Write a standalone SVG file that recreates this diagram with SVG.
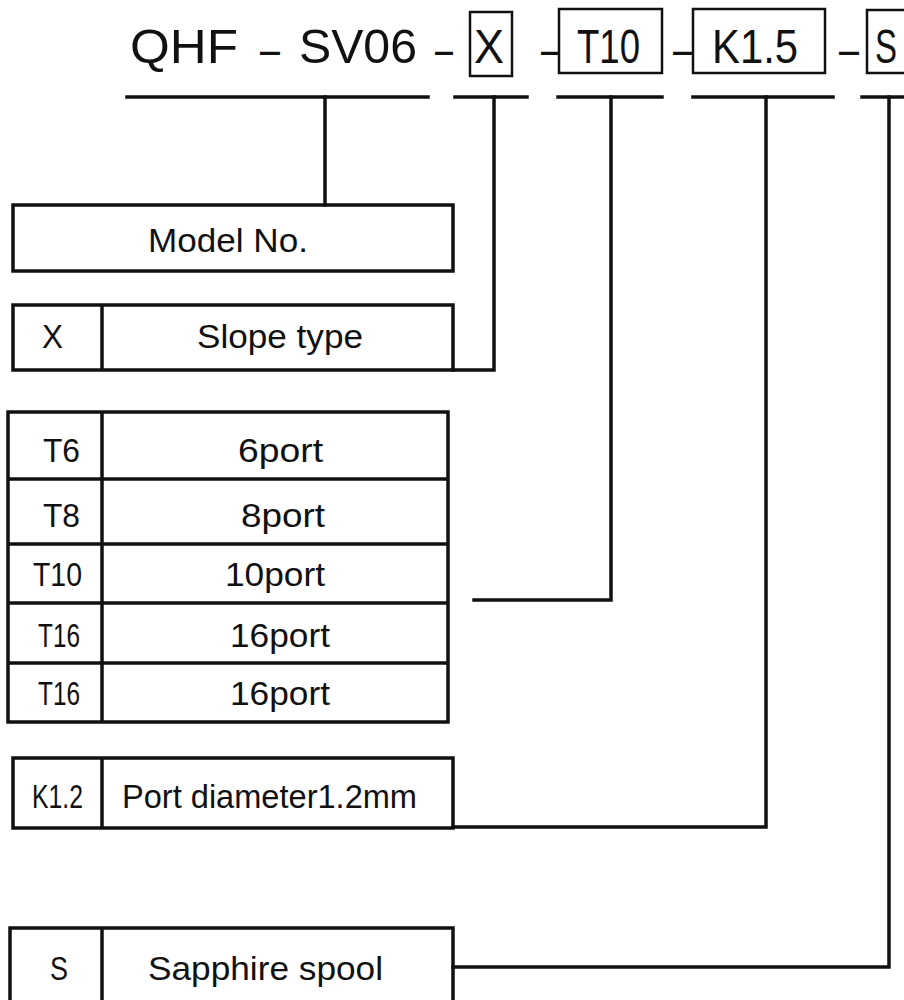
<svg xmlns="http://www.w3.org/2000/svg" width="904" height="1000" viewBox="0 0 904 1000">
<style>
.t{font-family:"Liberation Sans",Arial,sans-serif;fill:#111;}
.h{font-size:48px;}
.b{font-size:33px;}
.box{fill:none;stroke:#111;stroke-width:3.5;}
.hb{fill:none;stroke:#111;stroke-width:2.5;}
.ln{fill:none;stroke:#111;stroke-width:3.5;stroke-linecap:square;}
</style>
<rect width="904" height="1000" fill="#fff"/>
<g id="header">
<text class="t h" x="130" y="63" textLength="108" lengthAdjust="spacingAndGlyphs">QHF</text>
<text class="t h" x="260" y="66" textLength="20" lengthAdjust="spacingAndGlyphs">–</text>
<text class="t h" x="299" y="63" textLength="118" lengthAdjust="spacingAndGlyphs">SV06</text>
<text class="t h" x="435" y="66" textLength="18" lengthAdjust="spacingAndGlyphs">–</text>
<rect class="hb" x="470" y="12" width="42" height="64"/>
<text class="t h" x="474" y="63" textLength="30" lengthAdjust="spacingAndGlyphs">X</text>
<text class="t h" x="541" y="66" textLength="18" lengthAdjust="spacingAndGlyphs">–</text>
<rect class="hb" x="559" y="9" width="103" height="64"/>
<text class="t h" x="577" y="63" textLength="63" lengthAdjust="spacingAndGlyphs">T10</text>
<text class="t h" x="673" y="66" textLength="20" lengthAdjust="spacingAndGlyphs">–</text>
<rect class="hb" x="693" y="9" width="132" height="64"/>
<text class="t h" x="712" y="63" textLength="86" lengthAdjust="spacingAndGlyphs">K1.5</text>
<text class="t h" x="839" y="66" textLength="20" lengthAdjust="spacingAndGlyphs">–</text>
<rect class="hb" x="867" y="10" width="50" height="63"/>
<text class="t h" x="875" y="63" textLength="22" lengthAdjust="spacingAndGlyphs">S</text>
</g>
<g id="model">
<rect class="box" x="13" y="205" width="440" height="66"/>
<text class="t b" x="148" y="252" textLength="160" lengthAdjust="spacingAndGlyphs">Model No.</text>
</g>
<g id="slope">
<rect class="box" x="13" y="305" width="440" height="65"/>
<line class="box" x1="102" y1="305" x2="102" y2="370"/>
<text class="t b" x="42" y="348" textLength="21" lengthAdjust="spacingAndGlyphs">X</text>
<text class="t b" x="197" y="348" textLength="166" lengthAdjust="spacingAndGlyphs">Slope type</text>
</g>
<g id="ports">
<rect class="box" x="8" y="412" width="440" height="310"/>
<line class="box" x1="102" y1="412" x2="102" y2="722"/>
<line class="box" x1="8" y1="479" x2="448" y2="479"/>
<line class="box" x1="8" y1="544" x2="448" y2="544"/>
<line class="box" x1="8" y1="603" x2="448" y2="603"/>
<line class="box" x1="8" y1="663" x2="448" y2="663"/>
<text class="t b" x="43" y="462" textLength="37" lengthAdjust="spacingAndGlyphs">T6</text>
<text class="t b" x="238" y="462" textLength="85" lengthAdjust="spacingAndGlyphs">6port</text>
<text class="t b" x="43" y="527" textLength="37" lengthAdjust="spacingAndGlyphs">T8</text>
<text class="t b" x="241" y="527" textLength="84" lengthAdjust="spacingAndGlyphs">8port</text>
<text class="t b" x="33" y="586" textLength="49" lengthAdjust="spacingAndGlyphs">T10</text>
<text class="t b" x="225" y="586" textLength="100" lengthAdjust="spacingAndGlyphs">10port</text>
<text class="t b" x="38" y="647" textLength="42" lengthAdjust="spacingAndGlyphs">T16</text>
<text class="t b" x="230" y="647" textLength="100" lengthAdjust="spacingAndGlyphs">16port</text>
<text class="t b" x="38" y="705" textLength="42" lengthAdjust="spacingAndGlyphs">T16</text>
<text class="t b" x="230" y="705" textLength="100" lengthAdjust="spacingAndGlyphs">16port</text>
</g>
<g id="diameter">
<rect class="box" x="13" y="758" width="440" height="70"/>
<line class="box" x1="102" y1="758" x2="102" y2="828"/>
<text class="t b" x="32" y="808" textLength="51" lengthAdjust="spacingAndGlyphs">K1.2</text>
<text class="t b" x="122" y="808" textLength="295" lengthAdjust="spacingAndGlyphs">Port diameter1.2mm</text>
</g>
<g id="spool">
<rect class="box" x="10" y="928" width="443" height="100"/>
<line class="box" x1="102" y1="928" x2="102" y2="1000"/>
<text class="t b" x="50" y="980" textLength="18" lengthAdjust="spacingAndGlyphs">S</text>
<text class="t b" x="148" y="980" textLength="235" lengthAdjust="spacingAndGlyphs">Sapphire spool</text>
</g>
<g id="connectors">
<line class="ln" x1="127" y1="97" x2="428" y2="97"/>
<line class="ln" x1="455" y1="97" x2="527" y2="97"/>
<line class="ln" x1="558" y1="97" x2="662" y2="97"/>
<line class="ln" x1="693" y1="97" x2="833" y2="97"/>
<line class="ln" x1="862" y1="97" x2="904" y2="97"/>
<polyline class="ln" points="325,97 325,205"/>
<polyline class="ln" points="494,97 494,370 453,370"/>
<polyline class="ln" points="611,97 611,600 474,600"/>
<polyline class="ln" points="766,97 766,827 453,827"/>
<polyline class="ln" points="889,97 889,967 453,967"/>
</g>
</svg>
